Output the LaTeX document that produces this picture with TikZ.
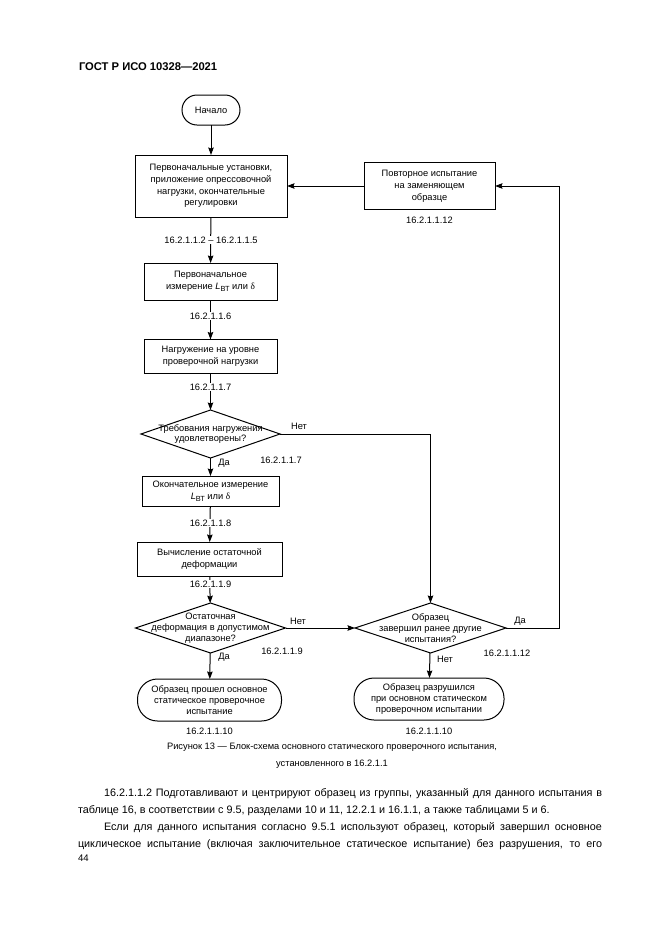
\documentclass[tikz,border=0pt]{standalone}
\usepackage{fontspec}
\setmainfont{Liberation Sans}
\newfontfamily\greekserif{Liberation Serif}
\usetikzlibrary{arrows.meta,shapes.geometric}
\newcommand{\Lbt}{\textit{L}\raisebox{-0.35ex}{\fontsize{7.4}{7.4}\selectfont ВТ}}
\newcommand{\dlt}{{\greekserif δ}}
\begin{document}
\begin{tikzpicture}[x=1pt,y=-1pt,
  every node/.style={inner sep=0pt, outer sep=0pt},
  txt/.style={font=\fontsize{9.3}{10.8}\selectfont, align=center},
  btxt/.style={font=\fontsize{9.3}{11.8}\selectfont, align=center},
  lab/.style={font=\fontsize{9.3}{10.6}\selectfont, fill=white, inner sep=1pt},
  freelab/.style={font=\fontsize{9.3}{10.6}\selectfont},
  box/.style={draw, line width=1pt, btxt},
  term/.style={draw, line width=1pt, txt, rounded corners=#1},
  dia/.style={draw, line width=1pt, diamond},
  arr/.style={line width=1pt, -{Stealth[length=7.5pt,width=5.5pt,inset=1pt]}}]
\useasboundingbox (0,0) rectangle (661,935);
\fill[white] (0,0) rectangle (661,935);

% header
\node[anchor=west, font=\bfseries\fontsize{11.2}{12}\selectfont] (hdr) at (79,67) {ГОСТ Р ИСО 10328—2021};

% nodes
\node[term=15pt, minimum width=58pt, minimum height=30pt] (start) at (211,110) {Начало};
\node[box, minimum width=152pt, minimum height=62pt] (b1) at (211,186)
  {Первоначальные установки,\\приложение опрессовочной\\нагрузки, окончательные\\регулировки};
\node[box, minimum width=131pt, minimum height=47pt] (rep) at (429.5,186)
  {Повторное испытание\\на заменяющем\\образце};
\node[box, minimum width=133pt, minimum height=37pt] (b2) at (210.5,281.5)
  {Первоначальное\\измерение \Lbt{} или \dlt};
\node[box, minimum width=133pt, minimum height=34pt] (b3) at (210.5,356.5)
  {Нагружение на уровне\\проверочной нагрузки};
\node[dia, minimum width=139pt, minimum height=48pt] (d1) at (210.5,434) {};
\node[txt] (d1t) at (d1) {Требования нагружения\\удовлетворены?};
\node[box, minimum width=137pt, minimum height=30pt] (b4) at (210.5,491)
  {Окончательное измерение\\\Lbt{} или \dlt};
\node[box, minimum width=145pt, minimum height=34pt] (b5) at (209.5,559)
  {Вычисление остаточной\\деформации};
\node[dia, minimum width=150pt, minimum height=50pt] (d2) at (210.5,628) {};
\node[txt] (d2t) at (d2) {Остаточная\\деформация в допустимом\\диапазоне?};
\node[term=20pt, minimum width=144pt, minimum height=42pt] (t1) at (209.5,700)
  {Образец прошел основное\\статическое проверочное\\испытание};
\node[dia, minimum width=151pt, minimum height=50pt] (d3) at (430.5,628) {};
\node[txt] (d3t) at (d3) {Образец\\завершил ранее другие\\испытания?};
\node[term=20pt, minimum width=150pt, minimum height=42pt] (t2) at (429,699)
  {Образец разрушился\\при основном статическом\\проверочном испытании};
\coordinate (cr) at (559,628);

% connectors
\draw[arr] (start) -- (b1);
\draw[arr] (rep) -- (b1);
\draw[arr] (b1) -- (b2);
\draw[arr] (b2) -- (b3);
\draw[arr] (b3) -- (d1);
\draw[arr] (d1) -- (b4);
\draw[arr] (b4) -- (b5);
\draw[arr] (b5) -- (d2);
\draw[arr] (d2) -- (t1);
\draw[arr] (d1.east) -| (d3.north);
\draw[arr] (d2.east) -- (d3.west);
\draw[arr] (d3.east) -- (cr) |- (rep.east);
\draw[arr] (d3) -- (t2);

% labels on lines
\node[lab] (l1) at (211,240) {16.2.1.1.2 – 16.2.1.1.5};
\node[lab] (l2) at (210.5,316) {16.2.1.1.6};
\node[lab] (l3) at (210.5,387) {16.2.1.1.7};
\node[lab] (l4) at (210.5,523) {16.2.1.1.8};
\node[lab] (l5) at (210.5,584) {16.2.1.1.9};

% free labels
\node[freelab] (l6) at (429.5,220) {16.2.1.1.12};
\node[freelab] (n1) at (299,426) {Нет};
\node[freelab] (y1) at (224,463) {Да};
\node[freelab] (r1) at (281,460) {16.2.1.1.7};
\node[freelab] (n2) at (298,621) {Нет};
\node[freelab] (y2) at (224,657) {Да};
\node[freelab] (r2) at (282,651) {16.2.1.1.9};
\node[freelab] (y3) at (520,621) {Да};
\node[freelab] (n3) at (445,659) {Нет};
\node[freelab] (r3) at (507,653) {16.2.1.1.12};
\node[freelab] (e1) at (209.5,731) {16.2.1.1.10};
\node[freelab] (e2) at (429,731) {16.2.1.1.10};

% caption
\node[freelab, align=center, font=\fontsize{9.3}{16.5}\selectfont, anchor=north] (cap) at (332,743)
  {Рисунок 13 — Блок-схема основного статического проверочного испытания,\\установленного в 16.2.1.1};

% body text
\node[anchor=north west, text width=524pt, align=justify, font=\fontsize{10.8}{17}\selectfont] (body) at (78,788)
  {\parindent=26pt\indent 16.2.1.1.2 Подготавливают и центрируют образец из группы, указанный для данного испытания в\linebreak таблице 16, в соответствии с 9.5, разделами 10 и 11, 12.2.1 и 16.1.1, а также таблицами 5 и 6.\par
  \parfillskip=0pt\indent Если для данного испытания согласно 9.5.1 используют образец, который завершил основное\linebreak циклическое испытание (включая заключительное статическое испытание) без разрушения, то его\par};
\node[anchor=west, font=\fontsize{9.6}{10}\selectfont] (pg) at (78,858) {44};
\end{tikzpicture}
\end{document}
